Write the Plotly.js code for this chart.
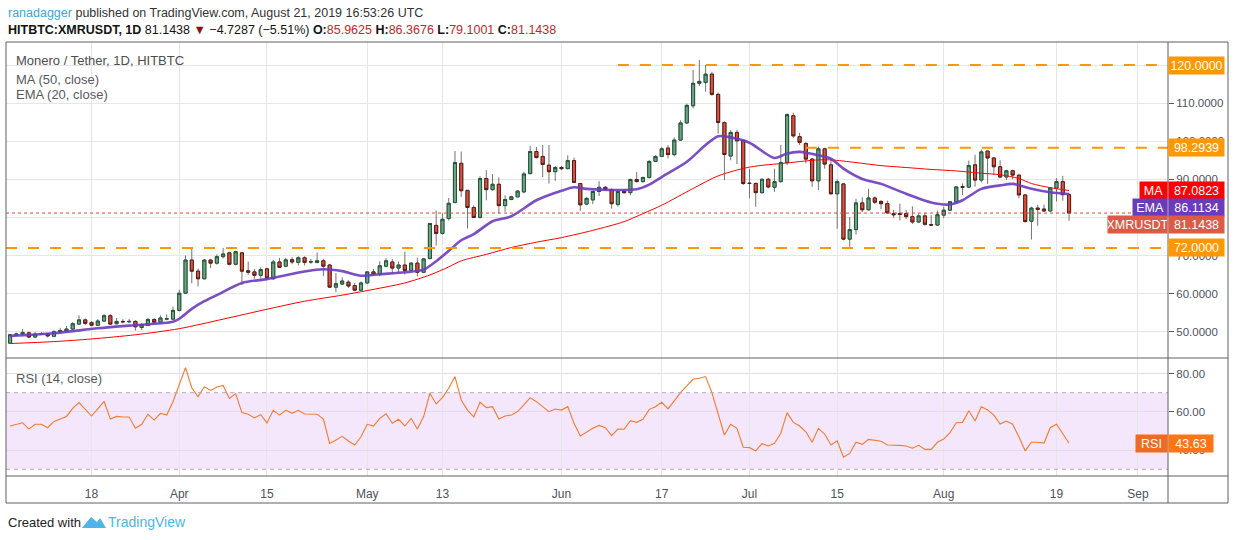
<!DOCTYPE html>
<html><head><meta charset="utf-8">
<script src="https://cdn.plot.ly/plotly-3.0.1.min.js"></script>
<style>html,body{margin:0;padding:0;background:#fff;overflow:hidden}#chart{width:1234px;height:540px}</style>
</head><body><div id="chart"></div>
<script>
// ---------------- DATA (daily candles 2019-03-05 .. 2019-08-21) ----------------
const firstDay = '2019-03-05';
const opens = [
// Mar 5-31
47.0,49.1,49.4,49.7,48.6,49.4,49.5,48.8,50.0,50.1,50.7,52.0,53.1,52.4,51.7,52.8,54.2,52.1,52.7,52.6,52.7,51.1,51.7,53.2,52.5,53.3,53.3,
// Apr
55.6,60.1,68.8,65.9,63.9,68.8,68.0,69.7,70.7,67.7,70.7,66.0,65.7,64.8,66.5,63.9,68.3,67.2,68.9,68.2,69.4,68.3,68.2,68.6,67.5,61.7,62.5,63.0,62.1,60.9,
// May
62.8,65.7,65.1,67.2,68.3,66.7,67.5,66.1,68.0,65.6,69.2,77.9,75.8,79.7,83.9,94.2,87.1,82.6,80.0,90.2,87.3,88.7,83.1,84.7,85.4,86.7,91.5,97.3,96.0,93.7,92.0,
// Jun
93.1,92.8,94.9,88.9,83.5,84.6,86.8,87.9,87.3,83.4,86.9,86.5,89.95,89.4,90.5,94.7,96.0,98.2,96.5,100.3,104.8,109.3,115.2,115.4,117.6,112.3,104.9,96.1,102.3,100.2,
// Jul
89.0,88.9,86.5,90.0,87.9,89.4,94.4,106.7,101.2,99.4,95.3,89.6,98.0,93.8,86.2,88.8,74.3,76.8,83.8,82.0,85.1,84.2,83.6,81.0,81.0,81.0,80.2,78.8,80.4,78.1,78.0,
// Aug 1-21
80.6,81.9,84.1,88.1,87.95,93.8,89.8,97.4,95.6,93.3,90.6,92.25,91.1,85.9,79.0,82.45,82.2,81.7,87.7,89.4,85.9625
];
const highs = [
49.3,49.7,50.7,50.0,49.9,49.9,49.7,50.4,51.0,51.5,52.5,54.3,53.5,52.8,53.3,54.6,54.6,53.6,53.3,53.3,53.0,52.3,53.6,53.5,54.3,54.5,56.6,
61.0,70.0,72.0,66.6,69.0,69.1,70.3,72.0,71.0,71.3,70.9,68.4,66.5,66.9,66.8,68.9,69.4,69.4,69.6,69.8,69.8,69.1,70.8,69.1,67.8,65.4,64.3,63.5,62.8,63.2,
65.9,66.5,68.5,69.3,69.1,68.4,71.0,68.2,69.4,69.4,78.6,81.8,81.1,85.1,97.4,97.3,87.2,83.2,90.8,92.4,91.4,90.5,85.8,85.7,87.2,92.0,98.8,98.5,99.0,99.0,93.5,
93.5,96.3,95.7,89.0,85.4,87.0,89.5,88.2,87.6,86.9,87.3,90.2,91.9,90.6,95.0,96.3,98.5,99.0,101.0,105.5,109.9,118.7,121.3,120.0,118.2,112.8,105.2,102.9,103.0,100.3,
92.8,89.2,90.2,90.4,92.8,99.0,107.3,107.5,102.2,99.8,95.6,98.6,98.3,95.4,90.0,89.0,80.1,84.9,85.3,87.5,85.5,84.5,84.4,82.0,83.6,82.0,82.9,81.0,81.2,80.6,81.8,
82.8,84.2,88.1,88.9,94.9,96.45,97.8,97.5,95.8,95.0,92.5,92.5,91.2,86.0,82.8,83.3,83.4,87.8,90.3,90.9,86.3676
];
const lows = [
46.8,48.9,49.2,48.3,48.4,49.1,48.5,48.6,49.8,49.9,50.5,51.8,51.8,51.4,51.5,52.6,51.8,51.9,52.2,52.2,50.3,50.4,51.5,52.3,52.2,53.0,53.0,
55.3,59.9,62.7,61.9,63.7,66.7,67.6,69.2,67.4,67.4,62.3,64.9,63.9,63.9,63.9,63.6,66.7,66.9,67.7,67.4,67.4,67.8,67.9,64.6,61.5,60.4,62.2,61.5,60.6,60.8,
62.5,64.7,64.5,66.9,65.4,65.4,65.0,65.8,64.5,65.4,69.0,72.6,75.5,79.2,83.7,85.4,77.1,79.8,79.7,84.5,87.0,81.0,81.5,84.5,85.4,86.3,91.3,95.5,90.6,88.9,89.6,
92.4,92.6,89.1,81.7,83.2,83.5,85.6,87.0,82.3,82.8,86.2,85.8,89.2,89.1,90.2,94.5,95.9,95.5,96.0,100.1,104.5,108.6,114.5,113.0,111.9,102.0,89.8,95.0,94.0,88.5,
85.0,82.8,86.2,87.6,86.7,89.1,93.7,100.9,99.0,94.2,88.0,87.2,92.8,86.0,77.0,74.0,72.2,75.5,81.4,81.8,83.5,82.2,80.9,79.9,79.2,79.6,78.3,78.5,77.8,77.8,77.8,
79.8,81.7,83.9,85.9,87.8,88.05,89.2,88.8,91.1,90.5,89.8,90.0,85.0,78.7,74.2,77.8,81.4,81.5,84.2,84.4,79.1001
];
const closes = [
49.2,49.4,49.8,48.6,49.4,49.5,48.9,50.0,50.3,50.7,52.1,53.1,52.2,51.7,52.8,54.2,52.0,52.7,52.6,52.7,51.3,51.8,53.2,52.5,53.6,53.4,55.6,
60.1,68.8,65.9,63.9,68.8,68.0,69.7,70.4,67.7,71.0,65.9,65.6,64.8,66.3,64.1,68.3,66.9,68.85,68.3,69.4,68.2,68.35,68.6,67.2,61.7,62.6,63.3,62.0,60.9,62.8,
65.7,65.1,67.3,68.6,66.7,67.5,66.1,68.0,65.6,69.1,78.4,75.8,79.5,83.7,94.4,87.0,82.6,80.0,90.2,87.3,88.7,83.1,84.7,85.4,86.9,91.4,97.3,95.7,93.9,92.0,93.1,
92.8,94.9,89.2,83.3,85.0,86.8,87.9,87.3,83.6,86.8,86.5,89.95,89.4,90.5,94.7,96.0,98.0,96.5,100.3,104.8,109.4,115.2,115.7,117.6,112.3,104.9,96.5,102.3,100.1,88.9,
88.9,86.5,90.0,88.0,89.4,94.4,107.0,101.4,99.7,95.3,89.6,98.0,94.0,86.2,89.4,74.3,76.8,83.8,82.0,85.1,84.0,83.6,81.2,80.7,80.8,80.2,78.8,80.4,78.2,78.0,80.7,
81.9,84.1,88.0,87.9,93.6,89.8,97.2,95.6,93.3,90.6,92.25,91.1,85.9,78.9,82.45,82.1,81.7,87.7,89.4,85.9625,81.1438
];
// MA (50, close)
const maDates = ['2019-03-05','2019-03-12','2019-03-18','2019-03-25','2019-04-01','2019-04-08','2019-04-15','2019-04-21','2019-04-27','2019-05-01','2019-05-07','2019-05-11','2019-05-14','2019-05-16','2019-05-20','2019-05-24','2019-05-28','2019-06-01','2019-06-06','2019-06-11','2019-06-14','2019-06-17','2019-06-22','2019-06-26','2019-07-01','2019-07-07','2019-07-12','2019-07-14','2019-07-18','2019-07-22','2019-07-26','2019-07-30','2019-08-03','2019-08-07','2019-08-10','2019-08-13','2019-08-15','2019-08-18','2019-08-21'];
const maValues = [46.9,47.4,48.1,49.2,50.8,53.3,55.9,58.0,59.6,60.8,62.8,64.9,67.0,68.6,70.3,72.1,73.5,74.7,76.6,78.9,81.0,83.2,87.6,90.9,93.2,94.3,95.1,95.1,94.4,93.6,93.1,92.6,92.2,91.6,91.2,90.2,88.9,87.8,87.08];
// EMA (20, close)
const emaDates = ['2019-03-05','2019-03-12','2019-03-19','2019-03-24','2019-03-29','2019-03-31','2019-04-01','2019-04-03','2019-04-05','2019-04-07','2019-04-11','2019-04-15','2019-04-21','2019-04-24','2019-04-27','2019-04-30','2019-05-03','2019-05-07','2019-05-10','2019-05-12','2019-05-14','2019-05-16','2019-05-18','2019-05-21','2019-05-24','2019-05-28','2019-06-01','2019-06-03','2019-06-05','2019-06-09','2019-06-13','2019-06-15','2019-06-17','2019-06-21','2019-06-24','2019-06-26','2019-06-28','2019-07-01','2019-07-05','2019-07-07','2019-07-09','2019-07-12','2019-07-14','2019-07-16','2019-07-19','2019-07-22','2019-07-26','2019-07-30','2019-08-02','2019-08-04','2019-08-07','2019-08-10','2019-08-12','2019-08-15','2019-08-18','2019-08-21'];
const emaValues = [48.9,49.6,50.9,51.6,52.2,52.6,53.4,56.0,58.0,59.6,62.8,63.8,65.8,66.4,65.9,64.7,65.1,65.6,66.3,68.5,71.2,74.0,75.6,79.0,80.3,84.5,87.0,87.9,87.5,87.2,87.4,88.6,90.6,94.6,99.0,101.3,101.0,99.6,95.6,96.8,97.2,96.3,95.4,92.8,90.1,88.8,86.2,83.9,83.4,84.5,87.5,88.4,88.8,87.5,86.6,86.11];
// RSI (14, close)
const rsiValues = [
52.6,53.6,54.3,51.0,53.5,53.5,51.7,55.0,56.2,57.6,61.8,64.8,61.3,57.8,61.5,65.5,56.2,57.6,57.3,57.3,51.4,53.5,58.7,55.7,59.2,58.3,65.3,
74.0,83.1,72.6,67.9,73.1,71.2,73.0,73.8,67.0,69.5,59.6,58.7,56.8,58.5,54.2,60.8,58.3,60.9,59.2,60.8,58.9,58.7,58.7,56.2,43.5,45.3,47.2,44.8,42.7,47.0,
53.5,52.6,56.6,59.0,54.0,56.1,52.6,56.6,51.0,57.5,69.7,64.1,67.4,72.3,78.4,66.2,60.9,57.3,65.0,62.2,62.7,56.2,57.8,58.3,60.1,63.6,67.4,65.3,62.7,60.1,61.5,
60.9,62.7,54.0,47.4,49.6,51.4,52.9,51.7,47.6,51.0,50.9,55.4,54.5,56.1,61.3,62.7,65.0,61.5,65.7,70.0,73.5,77.0,77.5,78.4,70.0,58.3,47.9,53.5,51.4,41.5,
41.3,39.6,43.4,42.2,43.6,48.8,59.6,54.5,52.6,49.6,44.1,51.4,48.4,42.7,44.9,36.3,38.3,44.1,43.0,45.6,45.1,44.6,42.7,42.7,42.5,42.2,41.0,42.5,40.4,40.4,44.1,
45.8,49.1,54.3,54.5,60.6,55.2,62.7,61.0,58.3,53.6,55.2,53.5,47.0,39.6,44.1,44.1,43.7,51.7,53.5,48.8,43.63
];
// horizontal levels drawn on the chart
const levelValues = [120.0, 98.2939, 72.0];
const levelLabels = ['120.0000', '98.2939', '72.0000'];
const levelStarts = ['2019-06-10', '2019-07-10', null];
// last values shown on the price axis
const lastMA = 87.0823, lastEMA = 86.1134, lastClose = 81.1438, lastRSI = 43.63;
// axis tick values (labels hidden behind the level / value boxes are left out)
const priceTicks = [50, 60, 70, 90, 100, 110];
const rsiTicks = [40, 60, 80];
const timeTickDates = ['2019-03-18','2019-04-01','2019-04-15','2019-05-01','2019-05-13','2019-06-01','2019-06-17','2019-07-01','2019-07-15','2019-08-01','2019-08-19','2019-09-01'];
const timeTickText = ['18','Apr','15','May','13','Jun','17','Jul','15','Aug','19','Sep'];

// ---------------- BUILD ----------------
const dates = opens.map((_, i) => {
  const d = new Date(firstDay + 'T00:00:00Z'); d.setUTCDate(d.getUTCDate() + i);
  return d.toISOString().slice(0, 10);
});
const bodyHi = opens.map((o, i) => Math.max(o, closes[i]));
const bodyLo = opens.map((o, i) => Math.min(o, closes[i]));

// pixel geometry of the plot area
const L = 6, R = 1168, T = 42, B = 476;
const px = x => (x - L) / (R - L);
const py = y => (B - y) / (B - T);
const split = py(358);
const xRange = ['2019-03-04 08:24', '2019-09-05 19:00'];
const yRange = [43.1, 126.04];
const yPix = v => 358 - (v - yRange[0]) / (yRange[1] - yRange[0]) * (358 - 42);

const FONT = 'Liberation Sans, Arial, sans-serif';
const UP = '#6ba583', DOWN = '#d75442', UPB = '#225437', DOWNB = '#5b1a13', WICK = '#737375';

const traces = [
  {type: 'candlestick', x: dates, open: opens, high: highs, low: lows, close: closes,
   xaxis: 'x', yaxis: 'y', showlegend: false, hoverinfo: 'skip', whiskerwidth: 0,
   increasing: {line: {color: WICK, width: 1}, fillcolor: UP},
   decreasing: {line: {color: WICK, width: 1}, fillcolor: DOWN}},
  {type: 'candlestick', x: dates, open: opens, high: bodyHi, low: bodyLo, close: closes,
   xaxis: 'x', yaxis: 'y', showlegend: false, hoverinfo: 'skip', whiskerwidth: 0,
   increasing: {line: {color: UPB, width: 1}, fillcolor: UP},
   decreasing: {line: {color: DOWNB, width: 1}, fillcolor: DOWN}},
  {type: 'scatter', mode: 'lines', x: maDates, y: maValues, xaxis: 'x', yaxis: 'y',
   line: {color: '#ff0000', width: 1, shape: 'spline', smoothing: 0.8}, showlegend: false, hoverinfo: 'skip'},
  {type: 'scatter', mode: 'lines', x: emaDates, y: emaValues, xaxis: 'x', yaxis: 'y',
   line: {color: '#6a3cbc', width: 2.6, shape: 'spline', smoothing: 0.8}, opacity: 0.9, showlegend: false, hoverinfo: 'skip'},
  {type: 'scatter', mode: 'lines', x: dates, y: rsiValues, xaxis: 'x', yaxis: 'y2',
   line: {color: '#f57a2e', width: 1.1}, showlegend: false, hoverinfo: 'skip'}
];

const shapes = [];
// RSI band
shapes.push({type: 'rect', xref: 'paper', yref: 'y2', x0: 0, x1: 1, y0: 30, y1: 70, fillcolor: '#f4e7fc', line: {width: 0}, layer: 'below'});
[30, 70].forEach(v => shapes.push({type: 'line', xref: 'paper', yref: 'y2', x0: 0, x1: 1, y0: v, y1: v, line: {color: '#b3aab8', width: 1, dash: '4px,4px'}}));
// levels
levelValues.forEach((v, i) => shapes.push({type: 'line', xref: 'x', yref: 'y', x0: levelStarts[i] || xRange[0], x1: xRange[1], y0: v, y1: v,
  line: {color: '#ff9800', width: 2, dash: '11px,11px'}}));
// last price line
shapes.push({type: 'line', xref: 'paper', yref: 'y', x0: 0, x1: 1, y0: lastClose, y1: lastClose, line: {color: '#e8412f', width: 1, dash: 'dot'}});
// frame
const frameC = '#5f6064';
const fl = (x0, y0, x1, y1) => shapes.push({type: 'line', xref: 'paper', yref: 'paper', x0: px(x0), y0: py(y0), x1: px(x1), y1: py(y1), line: {color: frameC, width: 1}});
fl(6, 42, 1228, 42); fl(6, 503, 1228, 503); fl(6, 42, 6, 503); fl(1228, 42, 1228, 503);
fl(1168, 42, 1168, 503); fl(6, 358, 1228, 358); fl(6, 476, 1228, 476);
// TradingView logo (decorative)
const lp = (x, y) => px(x).toFixed(5) + ',' + py(y).toFixed(5);
shapes.push({type: 'path', xref: 'paper', yref: 'paper',
  path: 'M' + lp(82, 528) + ' L' + lp(91, 517) + ' L' + lp(97, 522) + ' L' + lp(100, 518) + ' L' + lp(106, 528) + ' Z',
  fillcolor: '#4fb4e6', line: {width: 0}});

const ann = [];
const addText = (x, y, text, size, color, extra) => ann.push(Object.assign({xref: 'paper', yref: 'paper', x: px(x), y: py(y), xanchor: 'left', yanchor: 'middle',
  text: text, showarrow: false, font: {family: FONT, size: size, color: color}}, extra || {}));
addText(6, 13, '<span style="color:#3ca6dc">ranadagger</span> published on TradingView.com, August 21, 2019 16:53:26 UTC', 12.5, '#333');
addText(6, 30, '<b>HITBTC:XMRUSDT, 1D</b> 81.1438 <span style="color:#8b0f0f">▼</span> −4.7287 (−5.51%) <b>O:</b><span style="color:#c0282d">85.9625</span> <b>H:</b><span style="color:#c0282d">86.3676</span> <b>L:</b><span style="color:#c0282d">79.1001</span> <b>C:</b><span style="color:#c0282d">81.1438</span>', 12.5, '#131313');
addText(14, 61, 'Monero / Tether, 1D, HITBTC', 13, '#4e4e4e');
addText(14, 79, 'MA (50, close)', 13, '#5a5a5a');
addText(14, 95, 'EMA (20, close)', 13, '#5a5a5a');
addText(14, 378, 'RSI (14, close)', 13, '#5a5a5a');
addText(6, 522, 'Created with', 13, '#222');
addText(106, 522, 'TradingView', 14, '#4fb4e6');

// right-axis value labels (stacked by pixel so they do not overlap)
const box = (yPx, text, bg, w, anchor) => ann.push({xref: 'paper', yref: 'paper', x: 1, y: py(yPx), xanchor: anchor, yanchor: 'middle',
  text: text, showarrow: false, bgcolor: bg, width: w, height: 17, borderpad: 0, align: 'center',
  font: {family: FONT, size: 12.5, color: '#ffffff'}});
levelValues.forEach((v, i) => box(yPix(v), levelLabels[i], '#ff9800', 55, 'left'));
const maY = yPix(lastMA), emaY = maY + 17, closeY = emaY + 17;
box(maY, lastMA.toFixed(4), '#ff0000', 55, 'left'); box(maY, 'MA', '#ff0000', 27, 'right');
box(emaY, lastEMA.toFixed(4), '#6a3cbc', 55, 'left'); box(emaY, 'EMA', '#6a3cbc', 34, 'right');
box(closeY, lastClose.toFixed(4), '#dc5a46', 55, 'left'); box(closeY, 'XMRUSDT', '#dc5a46', 59, 'right');
const rsiY = 358 + (88.1 - lastRSI) / (88.1 - 26.5) * (476 - 358);
box(rsiY, lastRSI.toFixed(2), '#ff7417', 44, 'left'); box(rsiY, 'RSI', '#f06a22', 31, 'right');

const layout = {
  width: 1234, height: 540, paper_bgcolor: '#fff', plot_bgcolor: '#fff',
  margin: {l: L, r: 1234 - R, t: T, b: 540 - B, pad: 0},
  showlegend: false, font: {family: FONT, color: '#4c525e'},
  xaxis: {type: 'date', range: xRange, anchor: 'y2', rangeslider: {visible: false},
    tickvals: timeTickDates, ticktext: timeTickText, ticks: 'outside', ticklen: 7, tickcolor: 'rgba(0,0,0,0)',
    showgrid: true, gridcolor: '#e6e6e6', gridwidth: 1, zeroline: false, showline: false,
    tickfont: {family: FONT, size: 12, color: '#4c525e'}},
  yaxis: {domain: [split, 1], range: yRange, side: 'right', anchor: 'x',
    tickvals: priceTicks, ticktext: priceTicks.map(v => v.toFixed(4)), ticks: 'outside', ticklen: 5, tickcolor: '#555',
    showgrid: false, zeroline: false, showline: false,
    tickfont: {family: FONT, size: 11.5, color: '#4c525e'}},
  yaxis3: {domain: [split, 1], range: yRange, overlaying: 'y', side: 'right', anchor: 'x',
    tickvals: [50, 60, 70, 80, 90, 100, 110, 120], showticklabels: false, ticks: '',
    showgrid: true, gridcolor: '#e6e6e6', zeroline: false, showline: false},
  yaxis2: {domain: [0, split], range: [26.5, 88.1], side: 'right', anchor: 'x',
    tickvals: rsiTicks, ticktext: rsiTicks.map(v => v.toFixed(2)), ticks: 'outside', ticklen: 5, tickcolor: '#555',
    showgrid: true, gridcolor: '#e3dbe8', zeroline: false, showline: false,
    tickfont: {family: FONT, size: 11.5, color: '#4c525e'}},
  shapes: shapes, annotations: ann
};
// an empty trace so the grid-only axis is drawn
traces.unshift({type: 'scatter', x: [], y: [], xaxis: 'x', yaxis: 'y3', showlegend: false, hoverinfo: 'skip'});
Plotly.newPlot('chart', traces, layout, {staticPlot: true, displayModeBar: false});
</script></body></html>
